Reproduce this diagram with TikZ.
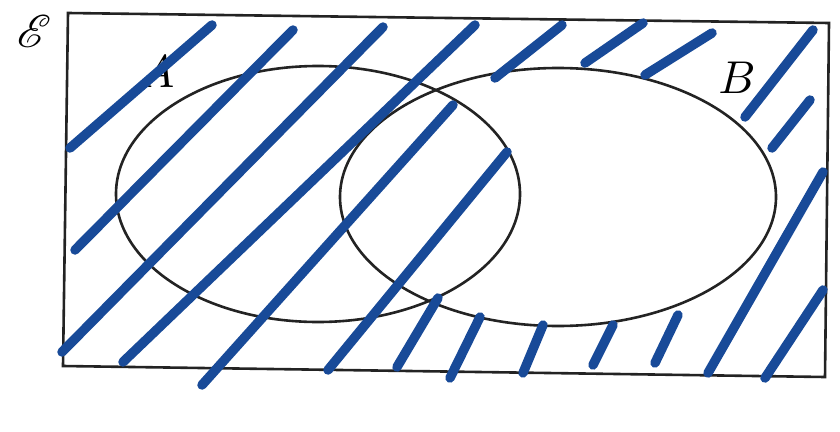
\documentclass[tikz,border=0pt]{standalone}
\usepackage{mathrsfs}
\definecolor{hatch}{RGB}{24,74,152}
\definecolor{ink}{RGB}{35,35,35}
\begin{document}
\begin{tikzpicture}[x=1pt,y=-1pt,
  outline/.style={draw=ink,line width=2.6pt},
  hatchline/.style={draw=hatch,line width=9.5pt,line cap=round},
  lbl/.style={inner sep=0pt,scale=4.6}]
\useasboundingbox (0,0) rectangle (840,431);
% universal set
\coordinate (c1) at (68,13);
\coordinate (c2) at (829,23);
\coordinate (c3) at (825,377);
\coordinate (c4) at (63,366);
\draw[outline] (c1) -- (c2) -- (c3) -- (c4) -- cycle;
% sets
\coordinate (ca) at (318,194);
\coordinate (cb) at (558,197);
\draw[outline] (ca) ellipse[x radius=202,y radius=128];
\draw[outline] (cb) ellipse[x radius=218,y radius=129];
% labels
\node[lbl] (E) at (34,31) {$\mathscr{E}$};
\node[lbl] (A) at (157,72) {$A$};
\node[lbl] (B) at (737,78) {$B$};
% hatching strokes
\foreach \xa/\ya/\xb/\yb [count=\i] in {
  70/148/212/25,
  75/250/293/30,
  62/352/383/27,
  123/362/475/25,
  202/385/453/105,
  328/370/507/152,
  397/367/438/298,
  450/378/480/317,
  523/373/543/325,
  593/365/613/325,
  655/363/678/315,
  708/373/823/172,
  765/378/823/290,
  495/78/562/25,
  585/63/643/23,
  645/75/712/33,
  745/117/813/30,
  772/148/810/100}{
  \coordinate (h\i s) at (\xa,\ya);
  \coordinate (h\i e) at (\xb,\yb);
  \draw[hatchline] (h\i s) -- (h\i e);
}
\end{tikzpicture}
\end{document}
